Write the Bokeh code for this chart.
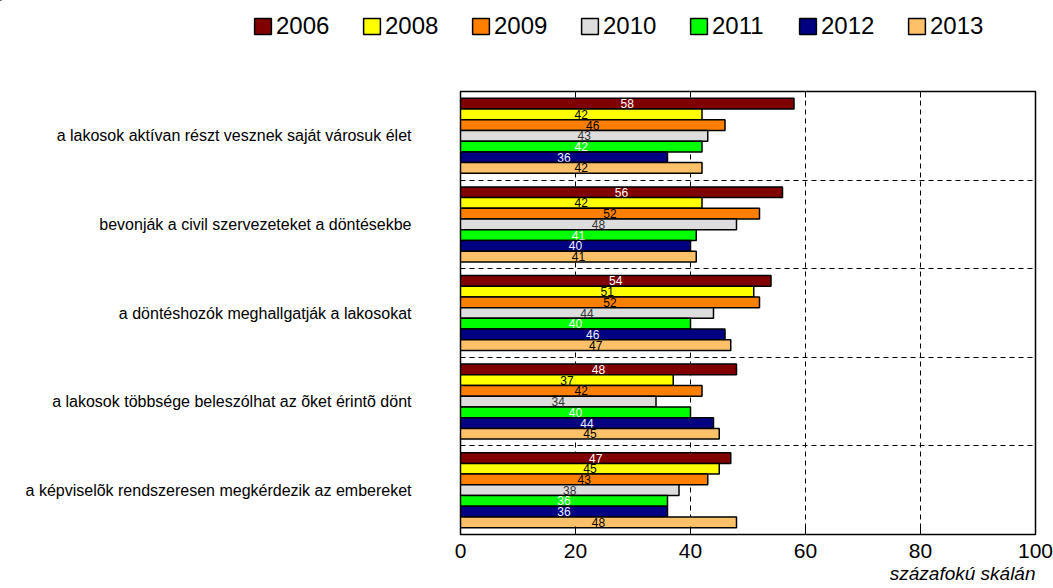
from bokeh.plotting import figure
from bokeh.layouts import column, row
from bokeh.models import (ColumnDataSource, Range1d, FixedTicker, LinearAxis,
                          Legend, LegendItem, Title)
from bokeh.core.properties import value
from bokeh.embed import file_html
from bokeh.resources import INLINE

# ---------------- data ----------------
categories = [
    "a lakosok aktívan részt vesznek saját városuk élet",
    "bevonják a civil szervezeteket a döntésekbe",
    "a döntéshozók meghallgatják a lakosokat",
    "a lakosok többsége beleszólhat az õket érintõ dönt",
    "a képviselõk rendszeresen megkérdezik az embereket",
]
years = ["2006", "2008", "2009", "2010", "2011", "2012", "2013"]
v2006 = [58, 56, 54, 48, 47]
v2008 = [42, 42, 51, 37, 45]
v2009 = [46, 52, 52, 42, 43]
v2010 = [43, 48, 44, 34, 38]
v2011 = [42, 41, 40, 40, 36]
v2012 = [36, 40, 46, 44, 36]
v2013 = [42, 41, 47, 45, 48]
series = [v2006, v2008, v2009, v2010, v2011, v2012, v2013]
x_ticks = [0, 20, 40, 60, 80, 100]
x_title = "százafokú skálán"

# ---------------- styles ----------------
colors = ["#800000", "#ffff00", "#ff8000", "#dddddd", "#00ff00", "#000080", "#ffc06a"]
label_colors = ["#ffffff", "#000000", "#000000", "#333333", "#ffffff", "#eeeeff", "#000000"]
FONT = "Liberation Sans"
W, H, LEG_H = 1053, 588, 50

# ---------------- legend strip ----------------
lg = figure(width=W, height=LEG_H, output_backend="svg", toolbar_location=None,
            x_range=Range1d(0, 1), y_range=Range1d(0, 1),
            x_axis_location=None, y_axis_location=None,
            min_border=0, min_border_left=0, min_border_right=0,
            min_border_top=0, min_border_bottom=0)
lg.grid.visible = False
lg.outline_line_color = None
lg.border_fill_color = "white"
items = []
for j, yr in enumerate(years):
    r = lg.hbar(y=[5], left=[0], right=[0], height=0.5, fill_color=colors[j],
                line_color="black", line_width=1.5)
    items.append(LegendItem(label=yr, renderers=[r], index=0))
legend = Legend(items=items, orientation="horizontal", location=(252, 10),
                glyph_width=21, glyph_height=20, label_standoff=3, label_width=54,
                spacing=31, padding=0, margin=0, border_line_color=None,
                background_fill_alpha=0, label_text_font=FONT,
                label_text_font_size="24px", label_text_color="black")
lg.add_layout(legend)

# ---------------- main chart ----------------
p = figure(width=W, height=H - LEG_H, output_backend="svg", toolbar_location=None,
           x_range=Range1d(0, 100), y_range=Range1d(4.5, -0.5),
           min_border_left=460, min_border_right=18,
           min_border_top=91 - LEG_H, min_border_bottom=54)
p.background_fill_color = "white"
p.border_fill_color = "white"
p.outline_line_color = "black"
p.outline_line_width = 1.5

n = len(years)
bar_h = 0.847 / n
for j, vals in enumerate(series):
    ys = [i + (j - (n - 1) / 2) * bar_h for i in range(len(categories))]
    src = ColumnDataSource(dict(y=ys, v=vals, lx=[v / 2 for v in vals],
                                txt=[str(v) for v in vals]))
    p.hbar(y="y", left=0, right="v", height=bar_h, source=src,
           fill_color=colors[j], line_color="black", line_width=1.5)
    p.text(x="lx", y="y", text="txt", source=src, text_align="center",
           text_baseline="middle", text_font_size="12px", text_font=value(FONT),
           text_color=label_colors[j])

# grid
p.xgrid.ticker = FixedTicker(ticks=[20, 40, 60, 80])
p.ygrid.ticker = FixedTicker(ticks=[0.5, 1.5, 2.5, 3.5])
for g in (p.xgrid, p.ygrid):
    g.grid_line_color = "black"
    g.grid_line_dash = "5 4"
    g.grid_line_width = 1

# x axis
xa = p.xaxis[0]
xa.ticker = FixedTicker(ticks=x_ticks)
xa.major_tick_in = 8
xa.major_tick_out = 0
xa.minor_tick_line_color = None
xa.axis_line_color = "black"
xa.major_label_text_font = FONT
xa.major_label_text_font_size = "21px"
xa.major_label_text_color = "black"
xa.major_label_standoff = 9

top = LinearAxis(ticker=FixedTicker(ticks=x_ticks), major_tick_in=6, major_tick_out=0,
                 minor_tick_line_color=None, major_label_text_color=None,
                 major_label_text_font_size="0px", major_label_standoff=0,
                 axis_line_color="black")
p.add_layout(top, "above")

# y axis
ya = p.yaxis[0]
ya.ticker = FixedTicker(ticks=list(range(len(categories))))
ya.major_label_overrides = {i: c for i, c in enumerate(categories)}
ya.major_tick_line_color = None
ya.minor_tick_line_color = None
ya.axis_line_color = "black"
ya.major_label_standoff = 43
ya.major_label_text_font = FONT
ya.major_label_text_font_size = "16px"
ya.major_label_text_color = "black"

# axis title
p.add_layout(Title(text=x_title, align="right", standoff=0, offset=0,
                   text_font=FONT, text_font_style="italic",
                   text_font_size="19px", text_color="black"), "below")

layout = column(row(lg), p, spacing=0)
open("out.html", "w").write(file_html(layout, INLINE))
